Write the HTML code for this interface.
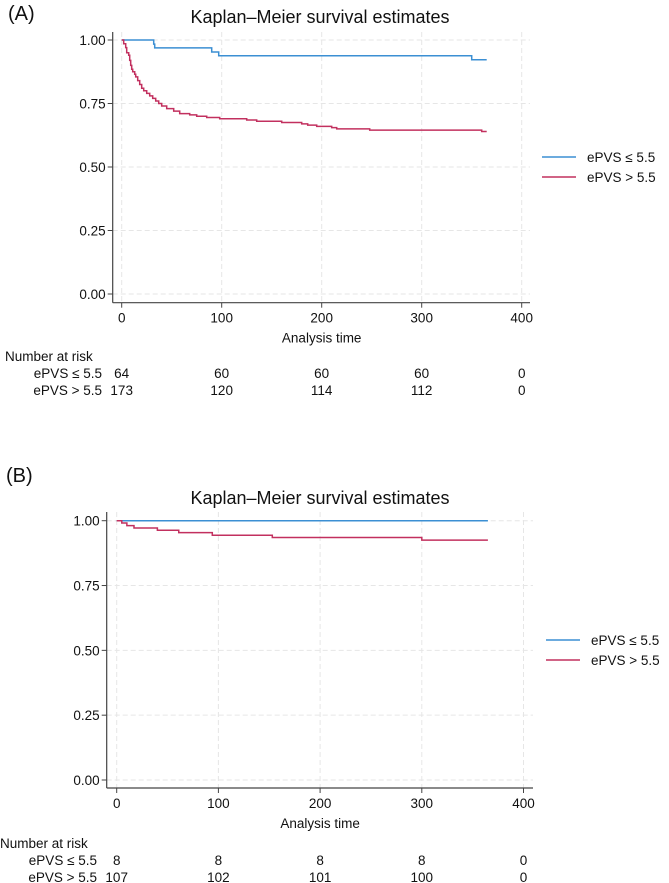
<!DOCTYPE html>
<html><head><meta charset="utf-8">
<style>
html,body{margin:0;padding:0;background:#fff;}
svg{display:block;font-family:"Liberation Sans",Arial,sans-serif;}
</style></head>
<body>
<svg id="fig" width="669" height="883" viewBox="0 0 669 883" xmlns="http://www.w3.org/2000/svg"></svg>
<script>
// ---- Data ----
const yTicks = [0, 0.25, 0.5, 0.75, 1.0];
const yTickLabels = ["0.00", "0.25", "0.50", "0.75", "1.00"];
const xTicks = [0, 100, 200, 300, 400];
const xTickLabels = ["0", "100", "200", "300", "400"];
const groupNames = ["ePVS \u2264 5.5", "ePVS > 5.5"];

// Panel A
const aLowTimes = [0, 32, 33, 90, 97, 350, 365];
const aLowSurv  = [1, 0.984, 0.969, 0.953, 0.938, 0.922, 0.922];
const aHighTimes = [0,2,4,5,7,8,9,10,11,13,14,16,18,20,22,25,28,31,34,37,40,45,52,58,68,75,85,98,125,135,160,180,186,195,210,215,248,360,365];
const aHighSurv  = [1,0.985,0.97,0.95,0.94,0.92,0.90,0.885,0.875,0.865,0.855,0.84,0.825,0.81,0.80,0.79,0.78,0.77,0.76,0.75,0.74,0.73,0.72,0.71,0.705,0.70,0.695,0.69,0.685,0.68,0.675,0.67,0.665,0.66,0.655,0.65,0.645,0.64,0.64];
const aRiskLow  = ["64", "60", "60", "60", "0"];
const aRiskHigh = ["173", "120", "114", "112", "0"];

// Panel B
const bLowTimes = [0, 365];
const bLowSurv  = [1, 1];
const bHighTimes = [0, 5, 10, 17, 40, 61, 94, 153, 300, 337, 365];
const bHighSurv  = [1, 0.991, 0.981, 0.972, 0.963, 0.954, 0.944, 0.935, 0.925, 0.925, 0.925];
const bRiskLow  = ["8", "8", "8", "8", "0"];
const bRiskHigh = ["107", "102", "101", "100", "0"];

const BLUE = "#3b8fd3", RED = "#c2305f";
const NS = "http://www.w3.org/2000/svg";
const svg = document.getElementById("fig");

function mk(tag, attrs, parent, text) {
  const el = document.createElementNS(NS, tag);
  for (const k in attrs) el.setAttribute(k, attrs[k]);
  if (text !== undefined) el.textContent = text;
  (parent || svg).appendChild(el);
  return el;
}

function stepPath(times, surv, xs, ys) {
  let d = "M" + xs(times[0]) + "," + ys(surv[0]);
  for (let i = 1; i < times.length; i++) {
    d += " H" + xs(times[i]) + " V" + ys(surv[i]);
  }
  return d;
}

function panel(p, c) {
  const g = mk("g", {}, svg);
  
  
  const xs = t => c.x0 + t * c.kx;
  const ys = s => c.y0 - s * (c.y0 - c.y1);

  let t = mk("text", {x: c.lx, y: c.ly, "font-size": 20, fill: "#111"}, g, "(" + p.id.toUpperCase() + ")");
  
  
  t = mk("text", {x: 320, y: c.ty, "font-size": 18, fill: "#111", "text-anchor": "middle"}, g, "Kaplan\u2013Meier survival estimates");
  
  

  // grid
  yTicks.forEach(v => {
    const l = mk("line", {x1: c.axX, x2: c.xEnd, y1: ys(v), y2: ys(v), stroke: "#e6e6e6", "stroke-width": 1, "stroke-dasharray": "5,3"}, g);
    
    
  });
  xTicks.forEach(v => {
    const l = mk("line", {x1: xs(v), x2: xs(v), y1: c.yTop, y2: c.axY, stroke: "#e6e6e6", "stroke-width": 1, "stroke-dasharray": "5,3"}, g);
    
    
  });
  // axes
  let a = mk("line", {x1: c.axX, x2: c.axX, y1: c.yTop, y2: c.axY, stroke: "#444", "stroke-width": 1.2}, g);
  
  
  a = mk("line", {x1: c.axX, x2: c.xEnd, y1: c.axY, y2: c.axY, stroke: "#444", "stroke-width": 1.2}, g);
  
  
  yTicks.forEach((v, i) => {
    mk("line", {x1: c.axX - 5, x2: c.axX, y1: ys(v), y2: ys(v), stroke: "#444"}, g);
    const tl = mk("text", {x: c.axX - 7, y: ys(v) + 5, "font-size": 13.5, "text-anchor": "end", fill: "#111"}, g, yTickLabels[i]);
    
    
  });
  xTicks.forEach((v, i) => {
    mk("line", {x1: xs(v), x2: xs(v), y1: c.axY, y2: c.axY + 5, stroke: "#444"}, g);
    const tl = mk("text", {x: xs(v), y: c.axY + 20, "font-size": 13.5, "text-anchor": "middle", fill: "#111"}, g, xTickLabels[i]);
    
    
  });
  t = mk("text", {x: xs(200), y: c.axY + 40, "font-size": 13.5, "text-anchor": "middle", fill: "#111"}, g, "Analysis time");
  
  

  // curves
  let s = mk("path", {d: stepPath(p.lowT, p.lowS, xs, ys), fill: "none", stroke: BLUE, "stroke-width": 1.5}, g);
  
  
  s = mk("path", {d: stepPath(p.highT, p.highS, xs, ys), fill: "none", stroke: RED, "stroke-width": 1.5}, g);
  
  

  // legend
  [BLUE, RED].forEach((col, i) => {
    const ly = c.legY + i * 20;
    const le = mk("g", {}, g);
    
    
    mk("line", {x1: c.legX, x2: c.legX + 34, y1: ly, y2: ly, stroke: col, "stroke-width": 1.5}, le);
    mk("text", {x: c.legX + 45, y: ly + 5, "font-size": 13.5, fill: "#111"}, le, groupNames[i]);
  });

  // risk table
  t = mk("text", {x: c.riskX, y: c.riskY, "font-size": 13.5, fill: "#111"}, g, "Number at risk");
  
  
  [p.riskLow, p.riskHigh].forEach((row, r) => {
    const ry = c.riskY + 17 * (r + 1);
    const rl = mk("text", {x: c.riskLabelX, y: ry, "font-size": 13.5, "text-anchor": "end", fill: "#111"}, g, groupNames[r]);
    
    
    row.forEach((v, i) => {
      const n = mk("text", {x: xs(xTicks[i]), y: ry, "font-size": 13.5, "text-anchor": "middle", fill: "#111"}, g, v);
      
      
    });
  });
}

panel({id: "a", lowT: aLowTimes, lowS: aLowSurv, highT: aHighTimes, highS: aHighSurv, riskLow: aRiskLow, riskHigh: aRiskHigh},
  {x0: 121.7, kx: 1.0, y0: 294, y1: 40, axX: 112.7, axY: 302.7, yTop: 32, xEnd: 530,
   lx: 8, ly: 20, ty: 23, legX: 542, legY: 157, riskX: 5, riskY: 361, riskLabelX: 102});
panel({id: "b", lowT: bLowTimes, lowS: bLowSurv, highT: bHighTimes, highS: bHighSurv, riskLow: bRiskLow, riskHigh: bRiskHigh},
  {x0: 116.7, kx: 1.017, y0: 780, y1: 520.7, axX: 106.7, axY: 788, yTop: 512, xEnd: 533,
   lx: 6, ly: 482, ty: 504, legX: 546, legY: 640, riskX: 0, riskY: 848, riskLabelX: 97});
</script>
</body></html>
